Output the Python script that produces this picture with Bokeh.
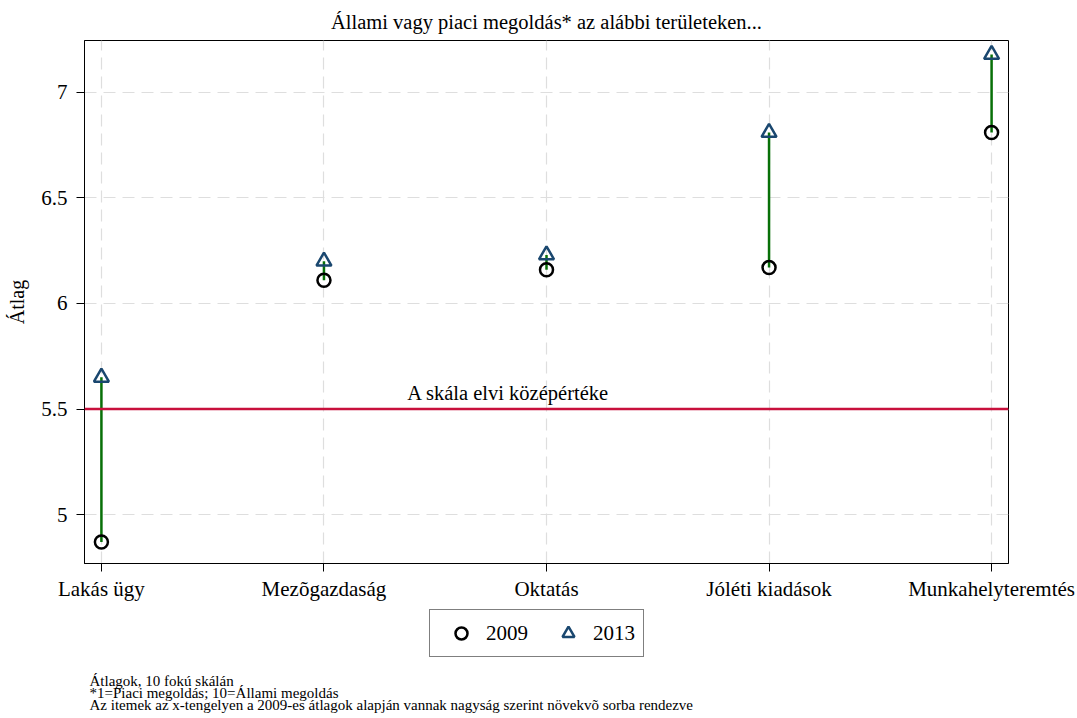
from bokeh.plotting import figure
from bokeh.layouts import column
from bokeh.models import (FixedTicker, Span, Label, Legend, LegendItem, ColumnDataSource)
from bokeh.core.properties import value
from bokeh.embed import file_html
from bokeh.resources import INLINE

# ---- data ----
categories = ["Lakás ügy", "Mezõgazdaság", "Oktatás", "Jóléti kiadások", "Munkahelyteremtés"]
x_pos = [1, 2, 3, 4, 5]
mean_2009 = [4.87, 6.11, 6.16, 6.17, 6.81]
mean_2013 = [5.65, 6.20, 6.23, 6.81, 7.18]
y_ticks = [5, 5.5, 6, 6.5, 7]
y_tick_labels = ["5", "5.5", "6", "6.5", "7"]
midpoint = 5.5
midpoint_label = "A skála elvi középértéke"
title_text = "Állami vagy piaci megoldás* az alábbi területeken..."
notes = ["Átlagok, 10 fokú skálán",
         "*1=Piaci megoldás; 10=Állami megoldás",
         "Az itemek az x-tengelyen a 2009-es átlagok alapján vannak nagyság szerint növekvõ sorba rendezve"]
series_names = ["2009", "2013"]

FONT = "Liberation Serif"
C09 = "black"
C13 = "#1a476f"

src = ColumnDataSource(dict(x=x_pos, y09=mean_2009, y13=mean_2013))

p = figure(width=1077, height=608, frame_width=924, frame_height=523,
           min_border_left=84, min_border_right=69, min_border_top=40, min_border_bottom=45,
           x_range=(0.924, 5.076), y_range=(4.768, 7.246),
           output_backend="svg", toolbar_location=None, tools="")

p.title.text = title_text
p.title.align = "center"
p.title.text_font = FONT
p.title.text_font_size = "20.5px"
p.title.text_font_style = "normal"
p.title.text_color = "black"
p.title.standoff = 15

p.background_fill_color = "white"
p.border_fill_color = "white"
p.outline_line_color = "black"
p.outline_line_width = 1

for g in (p.xgrid, p.ygrid):
    g.grid_line_color = "#dedede"
    g.grid_line_dash = "12 7"
    g.grid_line_width = 1.2

p.xaxis.ticker = FixedTicker(ticks=x_pos)
p.xaxis.major_label_overrides = {i: c for i, c in zip(x_pos, categories)}
p.yaxis.ticker = FixedTicker(ticks=y_ticks)
p.yaxis.major_label_overrides = {t: l for t, l in zip(y_ticks, y_tick_labels)}
for ax in (p.xaxis, p.yaxis):
    ax.major_tick_out = 8
    ax.major_tick_in = 0
    ax.minor_tick_line_color = None
    ax.axis_line_color = "black"
    ax.major_tick_line_color = "black"
    ax.major_label_text_font = FONT
    ax.major_label_text_font_size = "21px"
    ax.major_label_text_color = "black"
    ax.axis_label_text_font = FONT
    ax.axis_label_text_font_size = "20px"
    ax.axis_label_text_font_style = "normal"
    ax.axis_label_text_color = "black"
p.yaxis.major_label_orientation = "horizontal"
p.yaxis.major_label_standoff = 9
p.xaxis.major_label_standoff = 5
p.yaxis.axis_label = "Átlag"
p.yaxis.axis_label_standoff = 10

p.add_layout(Span(location=midpoint, dimension="width", line_color="#c8103c", line_width=2.5))
p.add_layout(Label(x=2.828, y=5.578, text=midpoint_label, text_font=FONT, text_font_size="20.5px",
                   text_align="center", text_baseline="middle", text_color="black"))

p.segment(x0="x", y0="y09", x1="x", y1="y13", source=src, line_color="#087008", line_width=2.5)
p.scatter("x", "y09", source=src, marker="circle", size=13, fill_color=None,
          line_color=C09, line_width=2.5)
p.scatter("x", "y13", source=src, marker="triangle", size=15, fill_color=None,
          line_color=C13, line_width=2.5)

# ---- lower strip: legend and notes (coordinates are page pixels; frame aligned with p) ----
p2 = figure(width=1077, height=109, x_range=(84, 1008), y_range=(717, 608),
            min_border=0, x_axis_type=None, y_axis_type=None,
            output_backend="svg", toolbar_location=None, tools="")
p2.outline_line_color = None
p2.grid.visible = False
p2.background_fill_color = "white"
p2.border_fill_color = "white"

offscreen = ColumnDataSource(dict(x=[-5000], y=[-5000]))
d09 = p2.scatter("x", "y", source=offscreen, marker="circle", size=11, fill_color=None,
                 line_color=C09, line_width=2.5)
d13 = p2.scatter("x", "y", source=offscreen, marker="triangle", size=14, fill_color=None,
                 line_color=C13, line_width=2.5)
legend = Legend(items=[LegendItem(label=series_names[0], renderers=[d09]),
                       LegendItem(label=series_names[1], renderers=[d13])],
                orientation="horizontal", location=(345, 60), margin=0, padding=8,
                glyph_width=46, glyph_height=30, label_standoff=2, spacing=17,
                label_text_font=FONT, label_text_font_size="21px", label_height=30,
                label_text_color="black",
                border_line_color="black", border_line_width=1,
                background_fill_color="white", background_fill_alpha=1)
p2.add_layout(legend, "center")

p2.text(x=[89, 89, 89], y=[680, 692, 704], text=notes, text_font=value(FONT),
        text_font_size="15px", text_align="left", text_baseline="middle", text_color="black")

open("out.html", "w").write(file_html(column(p, p2, spacing=0), INLINE))
